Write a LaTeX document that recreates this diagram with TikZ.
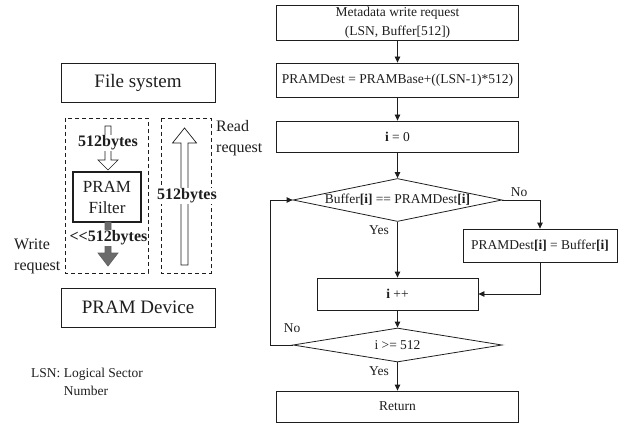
\documentclass[tikz,border=0pt]{standalone}
\usepackage{fontspec}
\setmainfont{Liberation Serif}
\usepackage{xcolor}
\usetikzlibrary{positioning,arrows.meta,shapes.geometric}
\definecolor{ink}{HTML}{1E1E1E}
\definecolor{slab}{HTML}{6B6B6B}
\tikzset{
  flow/.style={draw=ink, line width=0.8pt, minimum width=242pt, inner sep=1pt, align=center, font=\fontsize{13.5}{19}\selectfont, text=ink},
  decide/.style={diamond, draw=ink, line width=0.8pt, inner sep=0pt, font=\fontsize{13.5}{16}\selectfont, text=ink},
  tag/.style={font=\fontsize{13.5}{18}\selectfont, text=ink},
  link/.style={draw=ink, line width=0.8pt, -{Triangle[length=6pt,width=5.5pt]}},
}

\begin{document}
\begin{tikzpicture}[x=1pt, y=-1pt,
  sysbox/.style={draw=ink, line width=0.8pt, minimum width=154pt, minimum height=39pt, font=\fontsize{19}{22}\selectfont, text=ink},
  zone/.style={draw=ink, line width=0.7pt, dash pattern=on 4pt off 3pt},
  bytes/.style={fill=white, inner sep=0.5pt, font=\fontsize{16}{18}\selectfont\bfseries, text=ink},
  note/.style={font=\fontsize{16}{21}\selectfont, align=left, anchor=west, inner sep=0pt, text=ink}]
\useasboundingbox (0,0) rectangle (626,425);
% left: storage layers
\node[sysbox] (fs) at (138,82.5) {File system};
\node[sysbox] (dev) at (138,307.5) {PRAM Device};
\draw[zone] (65,118) rectangle (148,273);
\draw[zone] (161,118) rectangle (211,273);
\node[draw=ink, line width=1.4pt, minimum width=68pt, minimum height=50pt, align=center, font=\fontsize{17}{21}\selectfont, text=ink] (filter) at (107,197) {PRAM\\Filter};
% data arrows
\draw[draw=ink, line width=0.7pt, fill=white] (105,126) -- (111,126) -- (111,160) -- (118,160) -- (108,170) -- (98,160) -- (105,160) -- cycle;
\draw[draw=ink!70, line width=0.7pt, fill=slab] (105,222) -- (111,222) -- (111,253) -- (118,253) -- (108,266) -- (98,253) -- (105,253) -- cycle;
\draw[draw=ink, line width=0.7pt, fill=white] (181,265) -- (188,265) -- (188,143) -- (196.5,143) -- (184.5,128) -- (172.5,143) -- (181,143) -- cycle;
\node[bytes] (inbytes) at (108,143) {512bytes};
\node[bytes] (outbytes) at (108.5,238) {{<}{<}512bytes};
\node[bytes] (readbytes) at (187,196) {512bytes};
\node[note] (read) at (216,138) {Read\\request};
\node[note] (write) at (14,256.5) {Write\\request};
\node[tag, anchor=west, align=left, inner sep=0pt] (lsn) at (31,382) {LSN: Logical Sector\\\phantom{LSN: }Number};
% right: write flow
\node[flow, minimum height=35pt] (meta) at (397.5,22.5) {Metadata write request\\(LSN, Buffer[512])};
\node[flow, minimum height=34pt] (dest) at (397.5,80) {PRAMDest = PRAMBase+((LSN-1)*512)};
\node[flow, minimum height=31pt] (init) at (397.5,136.5) {\textbf{i} = 0};
\node[decide, minimum width=209pt, minimum height=43pt, aspect=4.86] (cmp) at (397.5,200) {Buffer\textbf{[i]} == PRAMDest\textbf{[i]}};
\node[flow, minimum width=154pt, minimum height=33pt] (copy) at (540,245.5) {PRAMDest\textbf{[i]} = Buffer\textbf{[i]}};
\node[flow, minimum width=161pt, minimum height=32pt] (inc) at (397.5,294) {\textbf{i} ++};
\node[decide, minimum width=209pt, minimum height=34pt, aspect=6.15] (chk) at (397.5,345) {i >= 512};
\node[flow, minimum height=31pt] (ret) at (397.5,406.5) {Return};
\coordinate (back) at (270,345);
\draw[link] (meta) -- (dest);
\draw[link] (dest) -- (init);
\draw[link] (init) -- (cmp);
\draw[link] (cmp.east) -| (copy.north);
\draw[link] (cmp) -- (inc);
\draw[link] (copy.south) |- (inc.east);
\draw[link] (inc) -- (chk);
\draw[link] (chk) -- (ret);
\draw[link] (chk.west) -- (back) |- (cmp.west);
\node[tag] (no1) at (519,192) {No};
\node[tag] (yes1) at (379,230) {Yes};
\node[tag] (no2) at (292,328) {No};
\node[tag] (yes2) at (379,371) {Yes};
\end{tikzpicture}
\end{document}
